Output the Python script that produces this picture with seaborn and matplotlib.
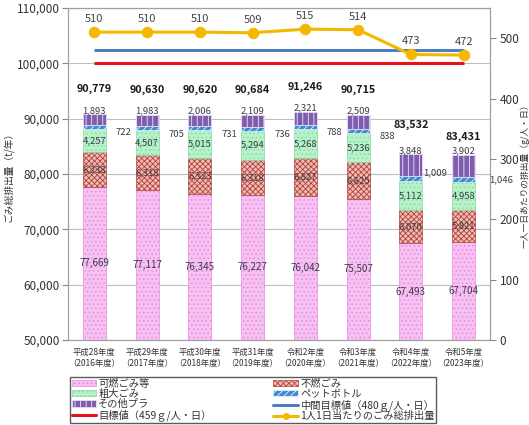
import numpy as np
import pandas as pd
import matplotlib
matplotlib.use("Agg")
import matplotlib.pyplot as plt
from matplotlib.patches import Patch
from matplotlib.lines import Line2D
import seaborn as sns

# ---- data -------------------------------------------------------------
year_labels = [
    "平成28年度\n（2016年度）", "平成29年度\n（2017年度）", "平成30年度\n（2018年度）",
    "平成31年度\n（2019年度）", "令和2年度\n（2020年度）", "令和3年度\n（2021年度）",
    "令和4年度\n（2022年度）", "令和5年度\n（2023年度）",
]
burnable = [77669, 77117, 76345, 76227, 76042, 75507, 67493, 67704]      # 可燃ごみ等
nonburnable = [6238, 6318, 6523, 6318, 6827, 6625, 6070, 5821]          # 不燃ごみ
bulky = [4257, 4507, 5015, 5294, 5268, 5236, 5112, 4958]                # 粗大ごみ
pet_bottles = [722, 705, 731, 736, 788, 838, 1009, 1046]                # ペットボトル
other_plastic = [1893, 1983, 2006, 2109, 2321, 2509, 3848, 3902]        # その他プラ
totals = [90779, 90630, 90620, 90684, 91246, 90715, 83532, 83431]
per_capita = [510, 510, 510, 509, 515, 514, 473, 472]                   # g/人・日
target_mid = 480
target_final = 459

series = [
    ("可燃ごみ等", burnable, "#F6C2F1", "#EA86E2", "...."),
    ("不燃ごみ", nonburnable, "#EDBDB5", "#B53F3A", "xxxxxx"),
    ("粗大ごみ", bulky, "#B8F2CA", "#86DBA1", "...."),
    ("ペットボトル", pet_bottles, "#3F8BD0", "#EAF4FF", "/////"),
    ("その他プラ", other_plastic, "#7E5CAE", "#EEE6F8", "|||"),
]

# label nudges (pixels)
total_lift = [25, 25, 25, 25, 25, 25, 30, 18]
pet_dx = [10, 10, 10, 10, 10, 10, 1, 14]
pet_dy = [-6, -6, -6, -6, -6, -6, 6, 0]

# ---- style ------------------------------------------------------------
sns.set_style("white")
plt.rcParams["font.family"] = ["Noto Sans CJK JP", "DejaVu Sans"]
plt.rcParams["hatch.linewidth"] = 0.6

W, H = 529, 425
fig = plt.figure(figsize=(W / 100, H / 100), dpi=100)
ax = fig.add_axes([68 / W, 85 / H, 422 / W, 332 / H])

n = len(year_labels)
bottom = np.zeros(n)
for name, vals, fc, ec, hatch in series:
    sns.barplot(x=year_labels, y=vals, bottom=bottom, ax=ax, color=fc,
                saturation=1, edgecolor=ec, hatch=hatch, linewidth=0.5,
                width=0.44, errorbar=None)
    bottom = bottom + np.asarray(vals)

ax.set_ylim(50000, 110000)
ax.set_xlim(-0.5, n - 0.5)
ax.set_yticks(np.arange(50000, 110001, 10000))
ax.set_yticklabels([f"{v:,}" for v in range(50000, 110001, 10000)],
                   fontsize=8.5, color="#333333")
ax.yaxis.grid(True, color="#BDBDBD", linewidth=0.8)
ax.set_axisbelow(True)
ax.tick_params(axis="x", which="major", length=0, labelsize=6,
               labelcolor="#333333", pad=6)
ax.set_xticks(np.arange(n) + 0.5, minor=True)
ax.tick_params(axis="x", which="minor", length=3, color="#888888")
ax.tick_params(axis="y", length=4, color="#888888", pad=2)
ax.set_xlabel("")
ax.set_ylabel("ごみ総排出量（t/年）", fontsize=7, color="#333333", labelpad=2)
for sp in ax.spines.values():
    sp.set_color("#A0A0A0")
    sp.set_linewidth(0.9)

# segment labels
cum = np.zeros(n)
seg_color = "#3C3C48"
for si, (name, vals, fc, ec, hatch) in enumerate(series):
    for i, v in enumerate(vals):
        lo, hi = cum[i], cum[i] + v
        if si == 0:
            ax.text(i, (max(lo, 50000) + hi) / 2, f"{v:,}", ha="center",
                    va="center", fontsize=7, color=seg_color)
        elif si in (1, 2):
            ax.text(i, (lo + hi) / 2, f"{v:,}", ha="center", va="center",
                    fontsize=6.8, color=seg_color)
        elif si == 3:
            ax.annotate(f"{v:,}", (i + 0.22, (lo + hi) / 2),
                        xytext=(pet_dx[i], pet_dy[i]), textcoords="offset pixels",
                        ha="left", va="center", fontsize=6.8, color=seg_color)
        else:
            ax.annotate(f"{v:,}", (i, hi), xytext=(0, 4),
                        textcoords="offset pixels", ha="center", va="center",
                        fontsize=6.8, color=seg_color)
    cum = cum + np.asarray(vals)

for i, t in enumerate(totals):
    ax.annotate(f"{t:,}", (i, t), xytext=(0, total_lift[i]),
                textcoords="offset pixels", ha="center", va="center",
                fontsize=7.8, fontweight="bold", color="#1A1A1A")

# per-capita axis
ax2 = ax.twinx()
ax2.set_ylim(0, 550)
ax2.set_yticks(np.arange(0, 501, 100))
ax2.set_yticklabels([str(v) for v in range(0, 501, 100)], fontsize=8.5,
                    color="#333333")
ax2.tick_params(axis="y", length=4, color="#888888", pad=3)
ax2.set_ylabel("一人一日あたりの排出量（g/人・日）", fontsize=6.3,
               color="#333333")
ax2.yaxis.set_label_coords((520 - 68) / 422, 0.5)
for sp in ax2.spines.values():
    sp.set_visible(False)

xs = np.arange(n)
ax2.hlines(target_mid, xs[0], xs[-1], color="#4F7FBF", linewidth=2.2)
ax2.hlines(target_final, xs[0], xs[-1], color="#E8101A", linewidth=2.2)
sns.lineplot(x=xs, y=per_capita, ax=ax2, color="#F5B800", linewidth=2.2,
             marker="o", markersize=7.5, markeredgecolor="#F5B800")
for i, v in enumerate(per_capita):
    ax2.annotate(str(v), (i, v), xytext=(0, 13), textcoords="offset pixels",
                 ha="center", va="center", fontsize=8, color="#444444")
ax.set_xlim(-0.5, n - 0.5)

# legend
handles = []
for name, vals, fc, ec, hatch in series:
    handles.append(Patch(facecolor=fc, edgecolor=ec, hatch=hatch,
                         linewidth=0.5, label=name))
h_final = Line2D([], [], color="#E8101A", linewidth=2.2,
                 label="目標値（459ｇ/人・日）")
h_mid = Line2D([], [], color="#4F7FBF", linewidth=2.2,
               label="中間目標値（480ｇ/人・日）")
h_pc = Line2D([], [], color="#F5B800", linewidth=2.2, marker="o",
              markersize=4, label="1人1日当たりのごみ総排出量")
order = [handles[0], handles[2], handles[4], h_final,
         handles[1], handles[3], h_mid, h_pc]
leg = fig.legend(handles=order, ncol=2, loc="upper left",
                 bbox_to_anchor=(70 / W, 1 - 377 / H), frameon=True,
                 fancybox=False, edgecolor="#333333", fontsize=7.4,
                 handlelength=2.4, handleheight=0.6, handletextpad=0.2,
                 labelspacing=0.02, columnspacing=6.0, borderpad=0.15,
                 borderaxespad=0)
leg.get_frame().set_linewidth(1.0)
for t in leg.get_texts():
    t.set_color("#333333")

fig.savefig("out.png", dpi=100)
